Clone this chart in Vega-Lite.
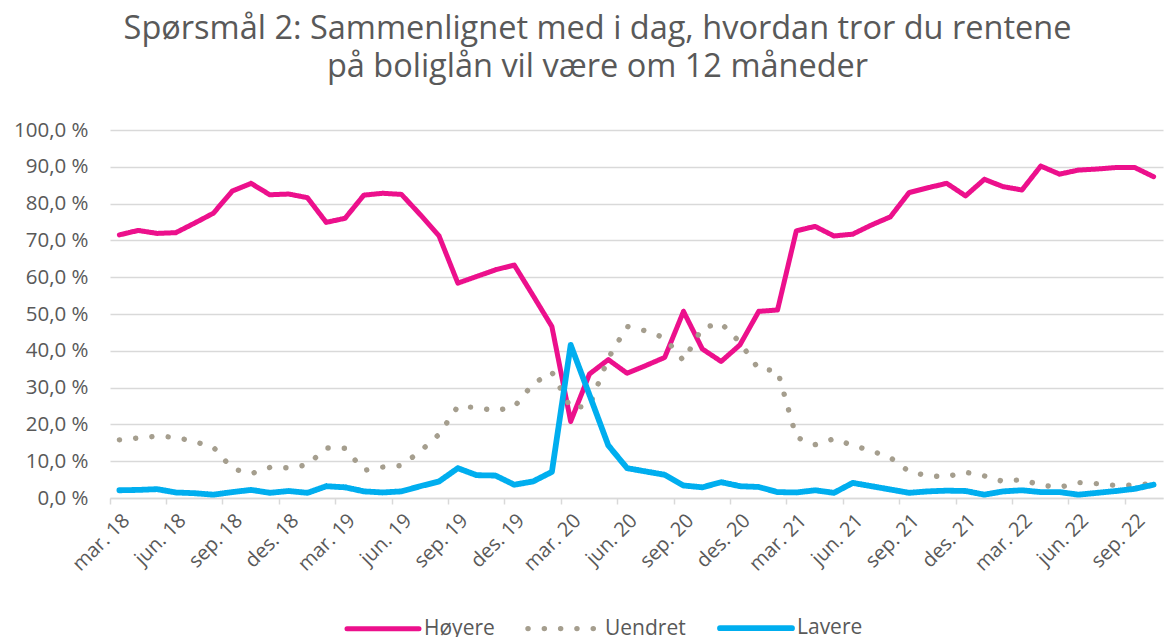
{
  "$schema": "https://vega.github.io/schema/vega-lite/v6.json",
  "width": 1053,
  "height": 368,
  "autosize": {"type": "none"},
  "padding": {"left": 110, "top": 130, "right": 2, "bottom": 139},
  "background": "white",
  "config": {"view": {"stroke": null}, "font": "Open Sans"},
  "title": {
    "text": ["Spørsmål 2: Sammenlignet med i dag, hvordan tror du rentene", "på boliglån vil være om 12 måneder"],
    "font": "Open Sans",
    "fontSize": 32.5,
    "fontWeight": "normal",
    "color": "#595959",
    "anchor": "middle",
    "lineHeight": 38,
    "offset": 37,
    "dx": -39
  },
  "data": {
    "values": [
      {"m":"2018-03","s":"Høyere","v":71.5},{"m":"2018-04","s":"Høyere","v":72.7},{"m":"2018-05","s":"Høyere","v":71.9},{"m":"2018-06","s":"Høyere","v":72.1},{"m":"2018-07","s":"Høyere","v":74.7},{"m":"2018-08","s":"Høyere","v":77.4},{"m":"2018-09","s":"Høyere","v":83.4},{"m":"2018-10","s":"Høyere","v":85.5},{"m":"2018-11","s":"Høyere","v":82.4},{"m":"2018-12","s":"Høyere","v":82.6},
      {"m":"2019-01","s":"Høyere","v":81.6},{"m":"2019-02","s":"Høyere","v":74.9},{"m":"2019-03","s":"Høyere","v":76.0},{"m":"2019-04","s":"Høyere","v":82.3},{"m":"2019-05","s":"Høyere","v":82.8},{"m":"2019-06","s":"Høyere","v":82.5},{"m":"2019-07","s":"Høyere","v":77.0},{"m":"2019-08","s":"Høyere","v":71.2},{"m":"2019-09","s":"Høyere","v":58.4},{"m":"2019-10","s":"Høyere","v":60.2},{"m":"2019-11","s":"Høyere","v":62.0},{"m":"2019-12","s":"Høyere","v":63.3},
      {"m":"2020-01","s":"Høyere","v":55.0},{"m":"2020-02","s":"Høyere","v":46.6},{"m":"2020-03","s":"Høyere","v":20.8},{"m":"2020-04","s":"Høyere","v":33.7},{"m":"2020-05","s":"Høyere","v":37.6},{"m":"2020-06","s":"Høyere","v":33.9},{"m":"2020-07","s":"Høyere","v":36.0},{"m":"2020-08","s":"Høyere","v":38.2},{"m":"2020-09","s":"Høyere","v":50.7},{"m":"2020-10","s":"Høyere","v":40.5},{"m":"2020-11","s":"Høyere","v":37.1},{"m":"2020-12","s":"Høyere","v":41.6},
      {"m":"2021-01","s":"Høyere","v":50.7},{"m":"2021-02","s":"Høyere","v":51.1},{"m":"2021-03","s":"Høyere","v":72.6},{"m":"2021-04","s":"Høyere","v":73.8},{"m":"2021-05","s":"Høyere","v":71.2},{"m":"2021-06","s":"Høyere","v":71.7},{"m":"2021-07","s":"Høyere","v":74.2},{"m":"2021-08","s":"Høyere","v":76.4},{"m":"2021-09","s":"Høyere","v":83.0},{"m":"2021-10","s":"Høyere","v":84.3},{"m":"2021-11","s":"Høyere","v":85.5},{"m":"2021-12","s":"Høyere","v":82.1},
      {"m":"2022-01","s":"Høyere","v":86.6},{"m":"2022-02","s":"Høyere","v":84.6},{"m":"2022-03","s":"Høyere","v":83.7},{"m":"2022-04","s":"Høyere","v":90.2},{"m":"2022-05","s":"Høyere","v":88.0},{"m":"2022-06","s":"Høyere","v":89.1},{"m":"2022-07","s":"Høyere","v":89.4},{"m":"2022-08","s":"Høyere","v":89.8},{"m":"2022-09","s":"Høyere","v":89.8},{"m":"2022-10","s":"Høyere","v":87.3},

      {"m":"2018-03","s":"Uendret","v":15.8},{"m":"2018-04","s":"Uendret","v":16.3},{"m":"2018-05","s":"Uendret","v":16.8},{"m":"2018-06","s":"Uendret","v":16.5},{"m":"2018-07","s":"Uendret","v":15.3},{"m":"2018-08","s":"Uendret","v":13.8},{"m":"2018-09","s":"Uendret","v":8.0},{"m":"2018-10","s":"Uendret","v":6.6},{"m":"2018-11","s":"Uendret","v":8.3},{"m":"2018-12","s":"Uendret","v":8.2},
      {"m":"2019-01","s":"Uendret","v":9.0},{"m":"2019-02","s":"Uendret","v":13.6},{"m":"2019-03","s":"Uendret","v":13.5},{"m":"2019-04","s":"Uendret","v":7.5},{"m":"2019-05","s":"Uendret","v":8.4},{"m":"2019-06","s":"Uendret","v":8.8},{"m":"2019-07","s":"Uendret","v":12.7},{"m":"2019-08","s":"Uendret","v":17.3},{"m":"2019-09","s":"Uendret","v":24.9},{"m":"2019-10","s":"Uendret","v":24.6},{"m":"2019-11","s":"Uendret","v":23.7},{"m":"2019-12","s":"Uendret","v":24.8},
      {"m":"2020-01","s":"Uendret","v":31.0},{"m":"2020-02","s":"Uendret","v":34.2},{"m":"2020-03","s":"Uendret","v":24.5},{"m":"2020-04","s":"Uendret","v":25.0},{"m":"2020-05","s":"Uendret","v":38.0},{"m":"2020-06","s":"Uendret","v":46.6},{"m":"2020-07","s":"Uendret","v":45.4},{"m":"2020-08","s":"Uendret","v":43.5},{"m":"2020-09","s":"Uendret","v":37.3},{"m":"2020-10","s":"Uendret","v":46.2},{"m":"2020-11","s":"Uendret","v":47.5},{"m":"2020-12","s":"Uendret","v":42.3},
      {"m":"2021-01","s":"Uendret","v":35.0},{"m":"2021-02","s":"Uendret","v":34.6},{"m":"2021-03","s":"Uendret","v":16.5},{"m":"2021-04","s":"Uendret","v":14.5},{"m":"2021-05","s":"Uendret","v":16.1},{"m":"2021-06","s":"Uendret","v":14.3},{"m":"2021-07","s":"Uendret","v":12.8},{"m":"2021-08","s":"Uendret","v":11.0},{"m":"2021-09","s":"Uendret","v":7.2},{"m":"2021-10","s":"Uendret","v":6.0},{"m":"2021-11","s":"Uendret","v":5.8},{"m":"2021-12","s":"Uendret","v":7.0},
      {"m":"2022-01","s":"Uendret","v":6.0},{"m":"2022-02","s":"Uendret","v":4.5},{"m":"2022-03","s":"Uendret","v":5.0},{"m":"2022-04","s":"Uendret","v":3.5},{"m":"2022-05","s":"Uendret","v":2.9},{"m":"2022-06","s":"Uendret","v":4.2},{"m":"2022-07","s":"Uendret","v":3.9},{"m":"2022-08","s":"Uendret","v":3.4},{"m":"2022-09","s":"Uendret","v":3.5},{"m":"2022-10","s":"Uendret","v":4.0},

      {"m":"2018-03","s":"Lavere","v":2.1},{"m":"2018-04","s":"Lavere","v":2.2},{"m":"2018-05","s":"Lavere","v":2.4},{"m":"2018-06","s":"Lavere","v":1.5},{"m":"2018-07","s":"Lavere","v":1.3},{"m":"2018-08","s":"Lavere","v":0.9},{"m":"2018-09","s":"Lavere","v":1.6},{"m":"2018-10","s":"Lavere","v":2.2},{"m":"2018-11","s":"Lavere","v":1.4},{"m":"2018-12","s":"Lavere","v":1.9},
      {"m":"2019-01","s":"Lavere","v":1.4},{"m":"2019-02","s":"Lavere","v":3.2},{"m":"2019-03","s":"Lavere","v":2.9},{"m":"2019-04","s":"Lavere","v":1.8},{"m":"2019-05","s":"Lavere","v":1.5},{"m":"2019-06","s":"Lavere","v":1.8},{"m":"2019-07","s":"Lavere","v":3.2},{"m":"2019-08","s":"Lavere","v":4.5},{"m":"2019-09","s":"Lavere","v":8.1},{"m":"2019-10","s":"Lavere","v":6.2},{"m":"2019-11","s":"Lavere","v":6.1},{"m":"2019-12","s":"Lavere","v":3.6},
      {"m":"2020-01","s":"Lavere","v":4.5},{"m":"2020-02","s":"Lavere","v":7.1},{"m":"2020-03","s":"Lavere","v":41.6},{"m":"2020-04","s":"Lavere","v":28.0},{"m":"2020-05","s":"Lavere","v":14.3},{"m":"2020-06","s":"Lavere","v":8.1},{"m":"2020-07","s":"Lavere","v":7.2},{"m":"2020-08","s":"Lavere","v":6.3},{"m":"2020-09","s":"Lavere","v":3.4},{"m":"2020-10","s":"Lavere","v":2.9},{"m":"2020-11","s":"Lavere","v":4.3},{"m":"2020-12","s":"Lavere","v":3.2},
      {"m":"2021-01","s":"Lavere","v":3.0},{"m":"2021-02","s":"Lavere","v":1.6},{"m":"2021-03","s":"Lavere","v":1.5},{"m":"2021-04","s":"Lavere","v":2.1},{"m":"2021-05","s":"Lavere","v":1.4},{"m":"2021-06","s":"Lavere","v":4.1},{"m":"2021-07","s":"Lavere","v":3.2},{"m":"2021-08","s":"Lavere","v":2.3},{"m":"2021-09","s":"Lavere","v":1.4},{"m":"2021-10","s":"Lavere","v":1.8},{"m":"2021-11","s":"Lavere","v":2.0},{"m":"2021-12","s":"Lavere","v":1.9},
      {"m":"2022-01","s":"Lavere","v":0.9},{"m":"2022-02","s":"Lavere","v":1.8},{"m":"2022-03","s":"Lavere","v":2.1},{"m":"2022-04","s":"Lavere","v":1.6},{"m":"2022-05","s":"Lavere","v":1.6},{"m":"2022-06","s":"Lavere","v":0.9},{"m":"2022-07","s":"Lavere","v":1.4},{"m":"2022-08","s":"Lavere","v":1.9},{"m":"2022-09","s":"Lavere","v":2.5},{"m":"2022-10","s":"Lavere","v":3.6}
    ]
  },
  "mark": {"type": "line", "strokeCap": "round", "strokeJoin": "round"},
  "encoding": {
    "x": {
      "field": "m",
      "type": "ordinal",
      "scale": {"type": "band", "paddingInner": 0, "paddingOuter": 0},
      "axis": {
        "title": null,
        "values": ["2018-03","2018-06","2018-09","2018-12","2019-03","2019-06","2019-09","2019-12","2020-03","2020-06","2020-09","2020-12","2021-03","2021-06","2021-09","2021-12","2022-03","2022-06","2022-09"],
        "labelExpr": "(substring(datum.value,5,7)=='03' ? 'mar.' : substring(datum.value,5,7)=='06' ? 'jun.' : substring(datum.value,5,7)=='09' ? 'sep.' : 'des.') + ' ' + substring(datum.value,2,4)",
        "labelAngle": -45,
        "labelFont": "Open Sans",
        "labelFontSize": 20,
        "labelColor": "#595959",
        "labelPadding": 6,
        "bandPosition": 0,
        "domainColor": "#d9d9d9",
        "domainWidth": 1.5,
        "tickColor": "#d9d9d9",
        "tickWidth": 1.5,
        "tickSize": 6,
        "grid": false
      }
    },
    "y": {
      "field": "v",
      "type": "quantitative",
      "scale": {"domain": [0, 100], "nice": false},
      "axis": {
        "title": null,
        "values": [0,10,20,30,40,50,60,70,80,90,100],
        "labelExpr": "replace(format(datum.value, '.1f'), '.', ',') + ' %'",
        "labelFont": "Open Sans",
        "labelFontSize": 20.5,
        "labelColor": "#595959",
        "labelPadding": 22,
        "domain": false,
        "ticks": false,
        "grid": true,
        "gridColor": "#d9d9d9",
        "gridWidth": 1.5
      }
    },
    "color": {
      "field": "s",
      "type": "nominal",
      "sort": ["Høyere", "Uendret", "Lavere"],
      "scale": {"domain": ["Høyere", "Uendret", "Lavere"], "range": ["#EC108C", "#A59E8E", "#00AEEF"]},
      "legend": {
        "title": null,
        "orient": "none",
        "legendX": 260,
        "legendY": 485,
        "direction": "horizontal",
        "columns": 3,
        "symbolType": "M-3.6,0H3.6",
        "symbolSize": 400,
        "symbolStrokeWidth": 5,
        "symbolFillColor": "transparent",
        "columnPadding": 22,
        "labelOffset": 28,
        "labelFont": "Open Sans",
        "labelFontSize": 21,
        "labelColor": "#595959",
        "encode": {"symbols": {"update": {"strokeCap": {"value": "round"}, "fill": {"value": "transparent"}}}}
      }
    },
    "strokeDash": {
      "field": "s",
      "type": "nominal",
      "sort": ["Høyere", "Uendret", "Lavere"],
      "scale": {"domain": ["Høyere", "Uendret", "Lavere"], "range": [[1, 0], [0.1, 16.2], [1, 0]]},
      "legend": null
    },
    "strokeWidth": {
      "field": "s",
      "type": "nominal",
      "sort": ["Høyere", "Uendret", "Lavere"],
      "scale": {"domain": ["Høyere", "Uendret", "Lavere"], "range": [5, 5.8, 5]},
      "legend": null
    }
  }
}
